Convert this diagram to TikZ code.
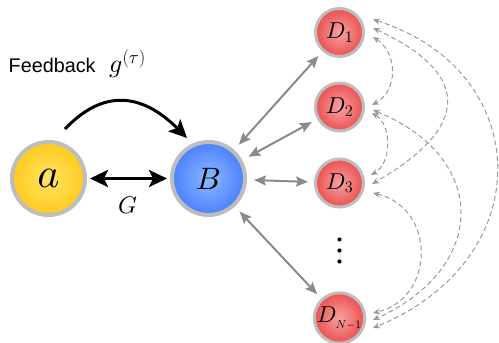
\RequirePackage{fix-cm}
\documentclass[tikz,border=0pt]{standalone}
\usepackage{fontspec}
\newfontfamily\fbfont{Liberation Sans}
\DeclareFontShape{OML}{cmm}{m}{it}{<->cmmi10}{}
\usetikzlibrary{arrows.meta,calc}
\definecolor{ain}{HTML}{FFE566}
\definecolor{amid}{HTML}{FFCA1C}
\definecolor{aout}{HTML}{F3AC00}
\definecolor{bin}{HTML}{8CB9FF}
\definecolor{bmid}{HTML}{4A80FF}
\definecolor{bout}{HTML}{2152EC}
\definecolor{din}{HTML}{F6A2A2}
\definecolor{dmid}{HTML}{EC5050}
\definecolor{dout}{HTML}{DA1C1C}
\definecolor{rim}{HTML}{BDBDBD}
\definecolor{conn}{HTML}{8A8A8A}
\definecolor{dconn}{HTML}{9A9A9A}
\pgfdeclareradialshading{ballA}{\pgfpoint{0bp}{0bp}}{color(0bp)=(ain); color(25bp)=(amid); color(50bp)=(aout)}
\pgfdeclareradialshading{ballB}{\pgfpoint{0bp}{0bp}}{color(0bp)=(bin); color(25bp)=(bmid); color(50bp)=(bout)}
\pgfdeclareradialshading{ballD}{\pgfpoint{0bp}{0bp}}{color(0bp)=(din); color(25bp)=(dmid); color(50bp)=(dout)}
\tikzset{
  ball/.style={circle, draw=rim, inner sep=0pt, shade},
  bigball/.style={ball, line width=4pt, minimum size=73pt},
  smallball/.style={ball, line width=3pt, minimum size=48pt},
  blackarrow/.style={line width=3pt, black},
  grayarrow/.style={line width=2pt, conn, {Stealth[length=12pt,width=10pt,inset=2pt]}-{Stealth[length=12pt,width=10pt,inset=2pt]}, shorten <=7pt, shorten >=6pt},
  dasharrow/.style={line width=1pt, dconn, dash pattern=on 5pt off 3pt, {Stealth[length=7pt,width=6pt]}-{Stealth[length=7pt,width=6pt]}},
}
\begin{document}
\begin{tikzpicture}[x=1pt,y=1pt]
\useasboundingbox (0,0) rectangle (499,343);
% nodes
\node[bigball, shading=ballA] (a) at (48.5,164.5) {\fontsize{42}{42}\selectfont$a$};
\node[bigball, shading=ballB] (B) at (208.5,164.5) {\fontsize{31}{31}\selectfont$B$};
\node[smallball, shading=ballD] (D1) at (339.5,310.5) {\fontsize{23}{23}\selectfont$D_1$};
\node[smallball, shading=ballD] (D2) at (339.5,236) {\fontsize{23}{23}\selectfont$D_2$};
\node[smallball, shading=ballD] (D3) at (339.5,160) {\fontsize{23}{23}\selectfont$D_3$};
\node[smallball, shading=ballD] (DN) at (339.5,25) {\fontsize{23}{23}\selectfont$D_{_{N-1}}$};
% labels
\node[anchor=base west, inner sep=0pt] (fb) at (8.5,270) {\fbfont\fontsize{19.8}{20}\selectfont Feedback};
\node[anchor=base west, inner sep=0pt] (g) at (109,270) {\fontsize{26}{26}\selectfont$g^{(\tau)}$};
\node[inner sep=0pt] (G) at (127.5,138) {\fontsize{24}{24}\selectfont$G$};
% black arrows
\draw[blackarrow, -{Stealth[length=18pt,width=17pt,inset=4pt]}] ($(a)+(16.5,49.5)$) .. controls +(38,40) and +(-45.5,45.5) .. ($(B)+(-21.5,40.5)$);
\draw[blackarrow, {Stealth[length=18pt,width=17pt,inset=4pt]}-{Stealth[length=18pt,width=17pt,inset=4pt]}, shorten <=3pt, shorten >=3pt] (a) -- (B);
% gray arrows
\draw[grayarrow] (B) -- (D1);
\draw[grayarrow] (B) -- (D2);
\draw[grayarrow] (B) -- (D3);
\draw[grayarrow] (B) -- (DN);
% dashed arrows
\draw[dasharrow] ($(D1)+(33.5,-4.5)$) .. controls +(25,-16) and +(26,14) .. ($(D2)+(32.5,2)$);
\draw[dasharrow] ($(D2)+(32.5,-6)$) .. controls +(20,-12) and +(21,12) .. ($(D3)+(31.5,8)$);
\draw[dasharrow] ($(D3)+(33.5,-10)$) .. controls +(63,-15) and +(63,15) .. ($(DN)+(33.5,5)$);
\draw[dasharrow] ($(D1)+(33.5,4.5)$) .. controls +(101,-47) and +(97,56) .. ($(D3)+(32.5,-1)$);
\draw[dasharrow] ($(D2)+(33.5,-3)$) .. controls +(117,-48) and +(115,52) .. ($(DN)+(33.5,-2)$);
\draw[dasharrow] ($(D1)+(33.5,13)$) .. controls +(160,-50) and +(170,70) .. ($(DN)+(33.5,-10)$);
% dots
\fill ($(D3)!0.5!(DN)+(0,11)$) circle (2.1pt);
\fill ($(D3)!0.5!(DN)$) circle (2.1pt);
\fill ($(D3)!0.5!(DN)+(0,-11)$) circle (2.1pt);
\end{tikzpicture}
\end{document}
